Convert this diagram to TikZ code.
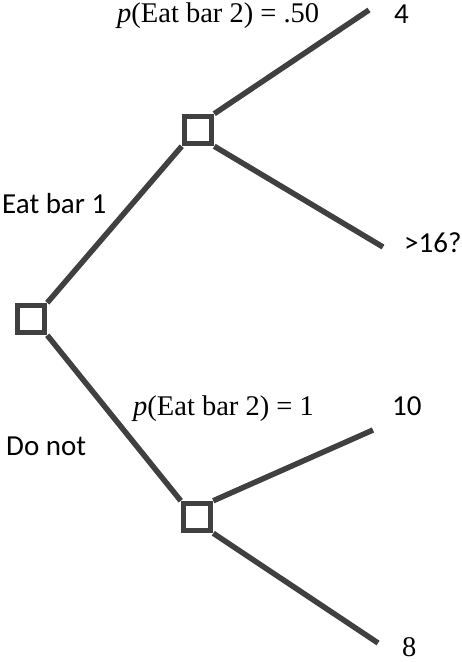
\documentclass[tikz,border=0pt]{standalone}
\usepackage{fontspec}
\setmainfont{Liberation Serif}
\newfontfamily\carlitofont{Carlito}
\definecolor{edgegray}{HTML}{404040}
\begin{document}
\begin{tikzpicture}[x=1pt,y=-1pt,
  decbox/.style={draw=edgegray,line width=5.5pt,minimum size=27pt,inner sep=0pt,fill=white},
  branch/.style={draw=edgegray,line width=5.5pt},
  serif/.style={anchor=base west,inner sep=0pt,font=\fontsize{28.5}{34}\selectfont},
  sans/.style={anchor=base west,inner sep=0pt,font=\carlitofont\fontsize{29}{35}\selectfont}]
\useasboundingbox (0,0) rectangle (462,662);
\node[decbox] (root) at (31,319) {};
\node[decbox] (up) at (198,130) {};
\node[decbox] (low) at (197,517) {};
\coordinate (e4) at (369,10);
\coordinate (e16) at (383,247);
\coordinate (e10) at (373,430);
\coordinate (e8) at (378,643);
\draw[branch] (root.north east) -- (up.south west);
\draw[branch] (root.south east) -- (low.north west);
\draw[branch] (up.north east) -- (e4);
\draw[branch] (up.south east) -- (e16);
\draw[branch] (low.north east) -- (e10);
\draw[branch] (low.south east) -- (e8);
\node[serif] (pa) at (117,22) {\textit{p}(Eat bar 2) = .50};
\node[sans] (l4) at (394,23) {4};
\node[sans] (eat) at (2,213) {Eat bar 1};
\node[sans] (l16) at (404,252) {>16?};
\node[serif] (pb) at (133,415) {\textit{p}(Eat bar 2) = 1};
\node[sans] (l10) at (392,415) {10};
\node[sans] (dn) at (6,455) {Do not};
\node[serif] (l8) at (402,656) {8};
\end{tikzpicture}
\end{document}
